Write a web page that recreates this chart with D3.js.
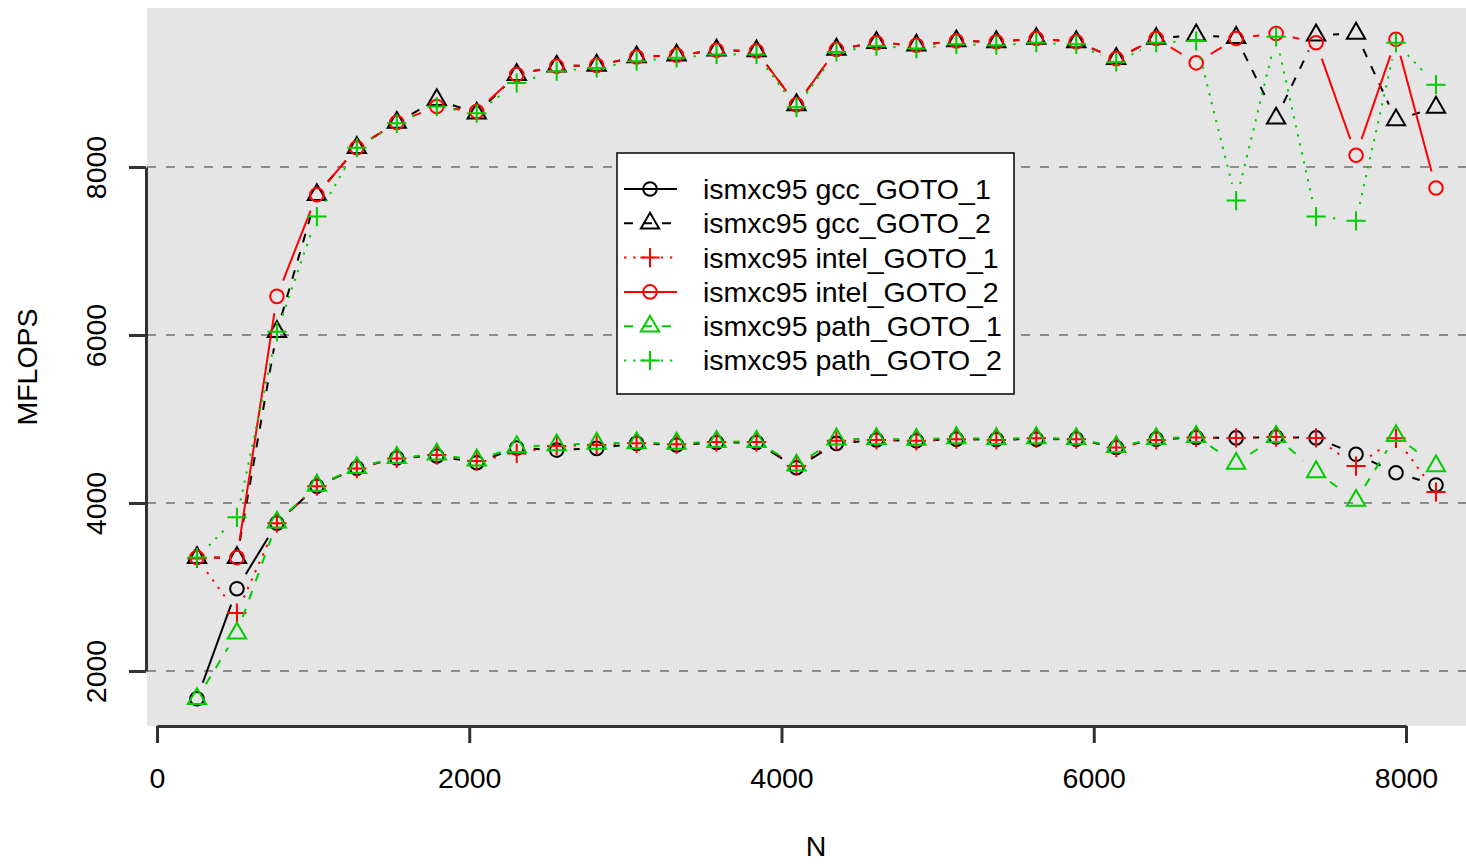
<!DOCTYPE html>
<html lang="en">
<head>
    <meta charset="UTF-8">
    <title>MFLOPS vs N</title>
    <script src="https://d3js.org/d3.v7.min.js"></script>
    <style>
        body { margin: 0; background: #ffffff; overflow: hidden; }
        svg { display: block; font-family: "Liberation Sans", Arial, Helvetica, sans-serif; }
    </style>
</head>
<body>
    <div id="chart"></div>
    <script>
        // matrix sizes
        const sizes = [256, 512, 768, 1024, 1280, 1536, 1792, 2048, 2304, 2560, 2816, 3072, 3328, 3584, 3840, 4096,
                       4352, 4608, 4864, 5120, 5376, 5632, 5888, 6144, 6400, 6656, 6912, 7168, 7424, 7680, 7936, 8192];

        const gccGoto1 = [1670, 2980, 3760, 4200, 4415, 4535, 4560, 4480, 4655, 4630, 4650, 4710, 4690, 4720, 4720, 4420,
                          4710, 4750, 4740, 4760, 4755, 4760, 4760, 4660, 4760, 4780, 4775, 4785, 4775, 4580, 4360, 4215];
        const gccGoto2 = [3350, 3350, 6040, 7670, 8230, 8530, 8800, 8640, 9100, 9200, 9210, 9310, 9330, 9390, 9380, 8740,
                          9400, 9480, 9450, 9500, 9490, 9530, 9490, 9290, 9530, 9570, 9540, 8580, 9570, 9590, 8560, 8710];
        const intelGoto1 = [3340, 2690, 3760, 4200, 4410, 4530, 4570, 4500, 4590, 4680, 4690, 4710, 4700, 4725, 4725, 4440,
                            4740, 4750, 4740, 4760, 4750, 4770, 4760, 4660, 4750, 4780, 4775, 4785, 4775, 4440, 4770, 4130];
        const intelGoto2 = [3350, 3350, 6460, 7670, 8230, 8530, 8720, 8660, 9100, 9200, 9210, 9310, 9330, 9390, 9380, 8740,
                            9400, 9480, 9450, 9500, 9490, 9530, 9490, 9290, 9530, 9240, 9530, 9590, 9480, 8140, 9520, 7750];
        const pathGoto1 = [1670, 2450, 3770, 4210, 4420, 4540, 4580, 4510, 4670, 4690, 4710, 4715, 4710, 4730, 4730, 4450,
                           4760, 4765, 4755, 4775, 4765, 4775, 4765, 4670, 4765, 4790, 4470, 4790, 4370, 4030, 4800, 4440];
        const pathGoto2 = [3350, 3830, 6040, 7410, 8230, 8520, 8720, 8640, 9000, 9140, 9180, 9260, 9300, 9340, 9340, 8710,
                           9370, 9440, 9410, 9460, 9450, 9480, 9460, 9250, 9480, 9500, 7600, 9550, 7410, 7360, 9480, 8980];

        const seriesNames = ["ismxc95 gcc_GOTO_1", "ismxc95 gcc_GOTO_2", "ismxc95 intel_GOTO_1",
                             "ismxc95 intel_GOTO_2", "ismxc95 path_GOTO_1", "ismxc95 path_GOTO_2"];
        const xTicks = [0, 2000, 4000, 6000, 8000];
        const yTicks = [2000, 4000, 6000, 8000];

        const width = 1466, height = 864;
        const plot = { left: 147, right: 1466, top: 8, bottom: 726 };

        const red = "#ff0000", green = "#00cd00";
        const dashed = "9,10", dotted = "2.3,6.9";
        const series = [
            { name: seriesNames[0], values: gccGoto1, color: "#000000", dash: null, pch: "circle" },
            { name: seriesNames[1], values: gccGoto2, color: "#000000", dash: dashed, pch: "triangle" },
            { name: seriesNames[2], values: intelGoto1, color: red, dash: dotted, pch: "plus" },
            { name: seriesNames[3], values: intelGoto2, color: red, dash: null, pch: "circle" },
            { name: seriesNames[4], values: pathGoto1, color: green, dash: dashed, pch: "triangle" },
            { name: seriesNames[5], values: pathGoto2, color: green, dash: dotted, pch: "plus" }
        ];

        const svg = d3.select("#chart").append("svg")
            .attr("width", width)
            .attr("height", height);

        const x = d3.scaleLinear().domain([0, 8000]).range([157, 1406]);
        const y = d3.scaleLinear().domain([2000, 8000]).range([671, 167]);

        // panel background
        svg.append("rect")
            .attr("x", plot.left).attr("y", plot.top)
            .attr("width", plot.right - plot.left).attr("height", plot.bottom - plot.top)
            .attr("fill", "#e5e5e5");

        // horizontal grid
        svg.selectAll(".grid").data(yTicks).enter().append("line")
            .attr("class", "grid")
            .attr("x1", plot.left).attr("x2", plot.right)
            .attr("y1", d => y(d)).attr("y2", d => y(d))
            .attr("stroke", "#8c8c8c")
            .attr("stroke-width", 2)
            .attr("stroke-dasharray", "9,10");

        // axes
        const xAxis = svg.append("g")
            .attr("transform", `translate(0, ${plot.bottom})`)
            .call(d3.axisBottom(x).tickValues(xTicks).tickSize(17).tickSizeOuter(0).tickFormat(d3.format("d")));
        const yAxis = svg.append("g")
            .attr("transform", `translate(${plot.left - 1}, 0)`)
            .call(d3.axisLeft(y).tickValues(yTicks).tickSize(17).tickSizeOuter(0).tickFormat(d3.format("d")));

        [xAxis, yAxis].forEach(ax => {
            ax.select(".domain").attr("stroke", "#333").attr("stroke-width", 3);
            ax.selectAll(".tick line").attr("stroke", "#333").attr("stroke-width", 3);
            ax.selectAll(".tick text")
                .attr("fill", "#000")
                .style("font-size", "28.5px")
                .style("font-family", "'Liberation Sans', Arial, sans-serif");
        });
        xAxis.selectAll(".tick text").attr("y", 52).attr("dy", "0.35em");
        yAxis.selectAll(".tick text")
            .attr("x", null).attr("dy", "0.35em")
            .attr("text-anchor", "middle")
            .attr("transform", "translate(-50,0) rotate(-90)");

        // axis titles
        svg.append("text")
            .attr("x", 816).attr("y", 846).attr("dy", "0.35em")
            .attr("text-anchor", "middle")
            .style("font-size", "28.5px")
            .text("N");
        svg.append("text")
            .attr("transform", "translate(27, 367) rotate(-90)")
            .attr("dy", "0.35em")
            .attr("text-anchor", "middle")
            .style("font-size", "28.5px")
            .text("MFLOPS");

        // point symbols, R style pch 1/2/3
        const R = 6.8;
        function drawSymbol(g, pch, cx, cy, color) {
            if (pch === "circle") {
                g.append("circle").attr("cx", cx).attr("cy", cy).attr("r", R)
                    .attr("fill", "none").attr("stroke", color).attr("stroke-width", 2);
            } else if (pch === "triangle") {
                const xc = 1.3468 * R, top = 1.5551 * R, bot = 0.7776 * R;
                g.append("path")
                    .attr("d", `M${cx},${cy - top}L${cx + xc},${cy + bot}L${cx - xc},${cy + bot}Z`)
                    .attr("fill", "none").attr("stroke", color).attr("stroke-width", 2);
            } else {
                const a = Math.SQRT2 * R;
                g.append("path")
                    .attr("d", `M${cx - a},${cy}H${cx + a}M${cx},${cy - a}V${cy + a}`)
                    .attr("fill", "none").attr("stroke", color).attr("stroke-width", 2);
            }
        }

        // type = "b": segments with a gap around each point, then the points
        const gap = 17;
        series.forEach(s => {
            const g = svg.append("g");
            const pts = sizes.map((n, i) => [x(n), y(s.values[i])]);
            for (let i = 0; i < pts.length - 1; i++) {
                const [x1, y1] = pts[i], [x2, y2] = pts[i + 1];
                const len = Math.hypot(x2 - x1, y2 - y1);
                if (len <= 2 * gap) continue;
                const ux = (x2 - x1) / len, uy = (y2 - y1) / len;
                g.append("line")
                    .attr("x1", x1 + ux * gap).attr("y1", y1 + uy * gap)
                    .attr("x2", x2 - ux * gap).attr("y2", y2 - uy * gap)
                    .attr("stroke", s.color)
                    .attr("stroke-width", 2)
                    .attr("stroke-dasharray", s.dash);
            }
            pts.forEach(p => drawSymbol(g, s.pch, p[0], p[1], s.color));
        });

        // legend
        const legend = svg.append("g");
        legend.append("rect")
            .attr("x", 617).attr("y", 153).attr("width", 397).attr("height", 241)
            .attr("fill", "#ffffff").attr("stroke", "#000").attr("stroke-width", 1.5);
        series.forEach((s, i) => {
            const ly = 189 + i * 34.3;
            legend.append("line")
                .attr("x1", 624).attr("x2", 677).attr("y1", ly).attr("y2", ly)
                .attr("stroke", s.color).attr("stroke-width", 2)
                .attr("stroke-dasharray", s.dash);
            drawSymbol(legend, s.pch, 650, ly, s.color);
            legend.append("text")
                .attr("x", 703).attr("y", ly).attr("dy", "0.35em")
                .style("font-size", "28.5px")
                .text(s.name);
        });
    </script>
</body>
</html>
